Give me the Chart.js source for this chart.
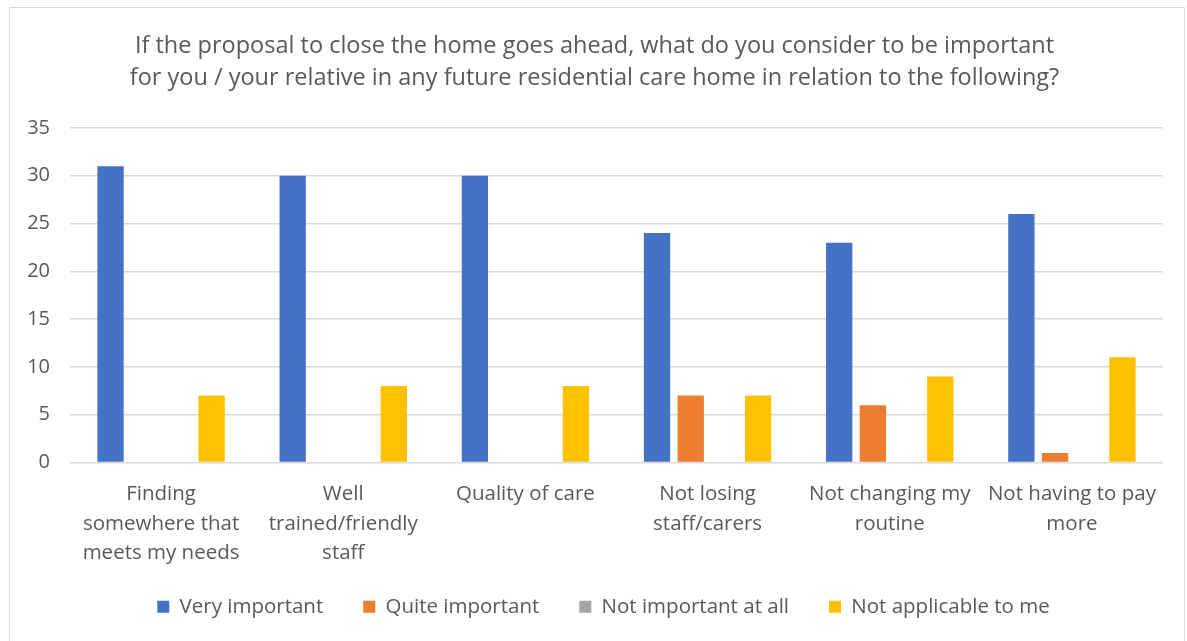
<!DOCTYPE html>
<html><head><meta charset="utf-8">
<script src="https://cdn.jsdelivr.net/npm/chart.js@4.4.1/dist/chart.umd.min.js"></script>
<style>
html,body{margin:0;padding:0;background:#fff;}
#wrap{position:absolute;left:0;top:0;width:1187px;height:641px;}
#frame{position:absolute;left:9px;top:7px;width:1176px;height:640px;border:1.5px solid #d9d9d9;box-sizing:border-box;}
canvas{position:absolute;left:0;top:0;}
</style></head>
<body>
<div id="wrap"><div id="frame"></div><canvas id="c" width="1187" height="641"></canvas></div>
<script>
const titleLines = ['If the proposal to close the home goes ahead, what do you consider to be important', 'for you / your relative in any future residential care home in relation to the following?'];
const categories = [
  ['Finding', 'somewhere that', 'meets my needs'],
  ['Well', 'trained/friendly', 'staff'],
  ['Quality of care'],
  ['Not losing', 'staff/carers'],
  ['Not changing my', 'routine'],
  ['Not having to pay', 'more']
];
const seriesNames = ['Very important', 'Quite important', 'Not important at all', 'Not applicable to me'];
const veryImportant = [31, 30, 30, 24, 23, 26];
const quiteImportant = [0, 0, 0, 7, 6, 1];
const notImportant = [0, 0, 0, 0, 0, 0];
const notApplicable = [7, 8, 8, 7, 9, 11];
const colors = ['#4472c4', '#ed7d31', '#a5a5a5', '#ffc000'];
const yTicks = [0, 5, 10, 15, 20, 25, 30, 35];

const FONT = '"Open Sans", sans-serif';
const seriesData = [veryImportant, quiteImportant, notImportant, notApplicable];

const shiftLegend = {
  id: 'shiftLegend',
  afterLayout(chart) {
    if (chart.legend) { chart.legend.left += 9; chart.legend.right += 9; }
  }
};

new Chart(document.getElementById('c'), {
  type: 'bar',
  data: {
    labels: categories,
    datasets: seriesNames.map((n, i) => ({
      label: n,
      data: seriesData[i],
      backgroundColor: colors[i],
      borderWidth: 0,
      categoryPercentage: 0.74,
      barPercentage: 0.78
    }))
  },
  plugins: [shiftLegend],
  options: {
    responsive: false,
    animation: false,
    devicePixelRatio: 1,
    layout: { padding: { left: 26, right: 24, top: 30, bottom: 14 } },
    plugins: {
      title: {
        display: true,
        text: titleLines,
        color: '#595959',
        font: { family: FONT, size: 23.5, weight: 'normal', lineHeight: 1.36 },
        padding: { top: 0, bottom: 34 }
      },
      legend: {
        position: 'bottom',
        labels: {
          color: '#595959',
          font: { family: FONT, size: 20.5 },
          boxWidth: 12, boxHeight: 12,
          padding: 40
        }
      },
      tooltip: { enabled: false }
    },
    scales: {
      x: {
        grid: { display: false },
        border: { display: false },
        ticks: {
          color: '#595959',
          font: { family: FONT, size: 20.5, lineHeight: 1.44 },
          maxRotation: 0, autoSkip: false, padding: 9
        },
        afterFit: s => { s.height = 94; s._computeLabelArea = () => null; }
      },
      y: {
        min: 0, max: 35,
        afterBuildTicks: s => { s.ticks = yTicks.map(v => ({ value: v })); },
        grid: { color: '#d9d9d9', lineWidth: 1.5, drawTicks: false },
        border: { display: false },
        ticks: {
          color: '#595959',
          font: { family: FONT, size: 20 },
          padding: 20
        },
        afterFit: s => { s.width = 44; s._computeLabelArea = () => null; }
      }
    }
  }
});
</script>
</body></html>
